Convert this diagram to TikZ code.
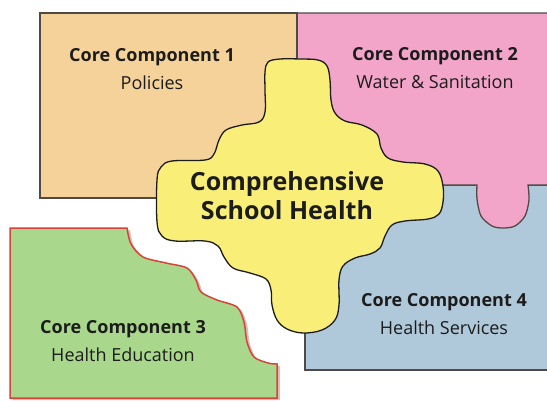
\documentclass[tikz,border=0pt]{standalone}
\usepackage{fontspec}
\setmainfont{Open Sans}
\usetikzlibrary{positioning}
\usetikzlibrary{shadows}

\definecolor{peach}{HTML}{F6D29B}
\definecolor{rose}{HTML}{F2A5C9}
\definecolor{skyblue}{HTML}{B0C9DA}
\definecolor{leaf}{HTML}{A9D78C}
\definecolor{lemon}{HTML}{F8EE78}
\definecolor{edgegray}{HTML}{4F4A45}
\definecolor{brickred}{HTML}{D8443A}
\definecolor{inkdark}{HTML}{1C1C1C}

\begin{document}
\begin{tikzpicture}[x=1pt,y=-1pt,
  piece/.style={line width=1.3pt,draw=edgegray},
  cctext/.style={align=center,text=inkdark,font=\fontsize{18}{28}\selectfont}]
\useasboundingbox (0,0) rectangle (547,400);
\clip (0,0) rectangle (547,400);

\coordinate (b1) at (305,185);
\coordinate (b2) at (551,370);
\coordinate (o1) at (40,13);
\coordinate (o2) at (297,198);

% component 4
\filldraw[piece,fill=skyblue] (b1) rectangle (b2);
% component 2, with its tab
\filldraw[piece,fill=rose] (297,13) -- (551,13) -- (551,185) -- (528,185)
  -- plot[smooth] coordinates {(528,185) (529,200) (525,216) (515,226) (503,228)
     (492,226) (481,216) (477,199) (477,185)}
  -- (297,185) -- cycle;
% component 1
\filldraw[piece,fill=peach] (o1) rectangle (o2);

% centre piece
\filldraw[line width=1.3pt,draw=inkdark,fill=lemon] plot[smooth cycle,tension=0.6] coordinates {
  (265,72) (268,62) (280,59) (300,59) (318,60) (327,66) (330,80) (331,100)
  (335,113) (345,121) (362,125) (377,134) (381,148) (388,158) (403,162)
  (425,164) (438,171) (443,186) (443,202) (439,214) (428,219) (405,221)
  (392,225) (385,236) (380,248) (370,254) (355,258) (343,266) (339,280)
  (339,305) (335,320) (322,330) (303,333) (287,329) (277,320) (272,305)
  (271,290) (266,279) (250,273) (233,268) (224,257) (218,246) (205,241)
  (175,241) (162,236) (157,222) (157,180) (161,167) (172,161) (205,160)
  (214,154) (219,140) (226,130) (242,125) (259,122) (265,112) (265,90)};

% component 3
\filldraw[line width=1.5pt,draw=brickred,fill=leaf,
  drop shadow={shadow xshift=3pt,shadow yshift=-2pt,opacity=.3,fill=brickred!60!black}]
  (10,398) -- (10,228) -- (127,228)
  -- plot[smooth] coordinates {(127,228) (131,244) (143,257) (166,263) (187,268)
     (196,280) (201,292) (217,300) (237,307) (244,322) (247,342) (254,357)
     (268,363) (277,364)}
  -- (277,398) -- cycle;

\node[cctext] (cc1) at (152,69) {\textbf{Core Component 1}\\Policies};
\node[cctext] (cc2) at (435,68) {\textbf{Core Component 2}\\Water \& Sanitation};
\node[cctext] (cc3) at (123,341) {\textbf{Core Component 3}\\Health Education};
\node[cctext] (cc4) at (444,314) {\textbf{Core Component 4}\\Health Services};
\node[align=center,text=inkdark,font=\bfseries\fontsize{25}{29}\selectfont] (csh) at (287,196)
  {Comprehensive\\School Health};
\end{tikzpicture}
\end{document}
